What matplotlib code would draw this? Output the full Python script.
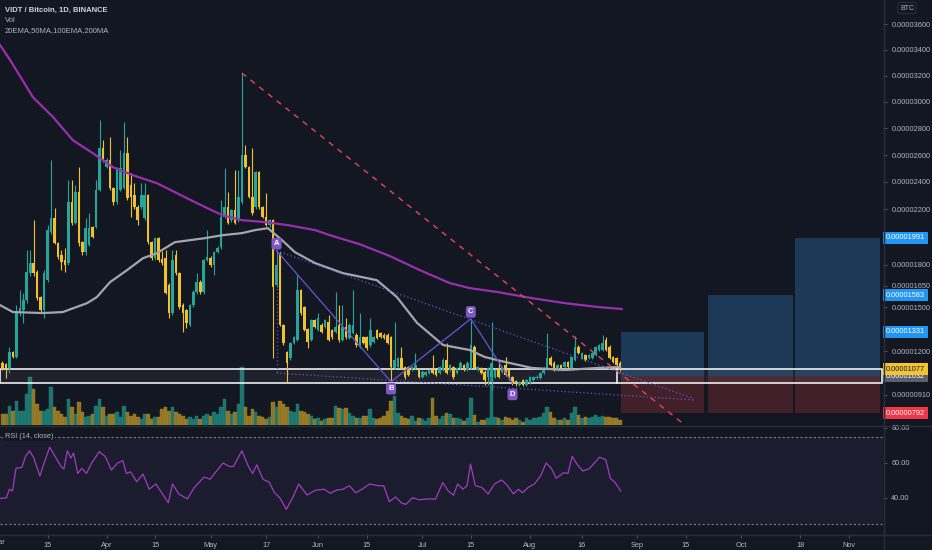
import numpy as np
import matplotlib
matplotlib.use("Agg")
import matplotlib.pyplot as plt
from matplotlib.patches import Rectangle
from matplotlib.lines import Line2D

plt.rcParams['font.family'] = ['Liberation Sans', 'DejaVu Sans']

BG = '#131722'
UP = '#26a69a'
DOWN = '#f0c02f'
TXT = '#b2b5be'
SEP = '#2a2e39'

# x = days since 2021-03-01, prices in units of 1e-8 BTC
candle_day = list(range(1, 180))
opens = [1120, 1113, 1087, 1194, 1160, 1460, 1481, 1550, 1740, 1811,
         1747, 1571, 1481, 1690, 2034, 2135, 1954, 1868, 1832, 1811,
         2251, 2098, 2325, 1961, 1889, 1940, 2070, 2070, 2340, 2651,
         2509, 2561, 2355, 2251, 2340, 2355, 2614, 2376, 2303, 2215,
         2215, 2135, 2303, 1961, 1846, 1990,
         1840, 1846, 1655, 1460, 1868, 1740, 1515, 1481, 1378, 1515,
         1606, 1676, 1606, 1832, 1846, 1796, 1889, 1925, 2142, 2215,
         2120, 2193, 2120, 2251, 2600, 2509, 2288, 2215, 2472, 2215,
         2142, 2084, 2120, 1655, 1882, 1378, 1194, 1153, 1254, 1275,
         1620, 1502, 1351, 1275,
         1412, 1344, 1378, 1365, 1398, 1344, 1330, 1378, 1275, 1365,
         1289, 1323, 1310, 1228, 1296, 1296, 1241, 1262, 1344, 1323,
         1310, 1310, 1296, 1087, 1093, 1153, 1093, 1093, 1073, 1087,
         1073, 1027, 1040, 1053, 1073, 1073, 1053, 1073, 1140, 1073,
         1093, 1053, 1087, 1107, 1073,
         1087, 1228, 1073, 1087, 1060, 1027, 1027, 1027, 1087, 1060,
         1107, 1073, 1027, 1000, 974, 1007, 974, 987, 1007, 1020,
         1020, 1053, 1087, 1153, 1120, 1073, 1107, 1093, 1127, 1087,
         1140, 1228, 1153, 1173, 1153, 1153, 1173, 1207, 1207, 1275,
         1228, 1160, 1153, 1120]
highs = [1130, 1120, 1228, 1200, 1515, 1620, 1600, 1904, 1904, 2120,
         1760, 1580, 1761, 2084, 2561, 2208, 1960, 1904, 1918, 2413,
         2413, 2376, 2509, 1968, 2135, 2171, 2080, 2413, 2862, 2711,
         2580, 2734, 2365, 2510, 2636, 2847, 2734, 2465, 2391, 2230,
         2391, 2391, 2310, 1970, 2000, 2000,
         1900, 1904, 1670, 1904, 1904, 1750, 1530, 1490, 1525, 1620,
         1740, 1690, 1840, 2048, 1860, 1900, 1930, 2266, 2502, 2325,
         2200, 2487, 2487, 3221, 2674, 2520, 2651, 2480, 2480, 2220,
         2318, 2130, 2130, 1900, 1890, 1385, 1200, 1260, 1305, 1725,
         1630, 1510, 1360, 1420,
         1420, 1460, 1390, 1420, 1446, 1350, 1606, 1515, 1515, 1426,
         1390, 1620, 1320, 1460, 1305, 1305, 1426, 1305, 1350, 1330,
         1320, 1320, 1305, 1398, 1160, 1228, 1100, 1100, 1100, 1187,
         1080, 1070, 1065, 1080, 1173, 1080, 1100, 1150, 1254, 1115,
         1100, 1095, 1130, 1115, 1130,
         1420, 1240, 1100, 1095, 1070, 1095, 1398, 1080, 1140, 1100,
         1160, 1080, 1035, 1010, 1000, 1015, 1015, 1035, 1035, 1040,
         1060, 1095, 1323, 1165, 1130, 1115, 1115, 1135, 1135, 1170,
         1303, 1240, 1195, 1180, 1180, 1195, 1235, 1250, 1310, 1296,
         1240, 1170, 1160, 1130]
lows = [1075, 1020, 1053, 1150, 1150, 1440, 1392, 1530, 1720, 1720,
        1550, 1460, 1426, 1680, 2020, 1950, 1840, 1761, 1747, 1796,
        2084, 2090, 1932, 1868, 1870, 1932, 1990, 2060, 2330, 2550,
        2500, 2340, 2230, 2240, 2330, 2345, 2270, 2142, 2200, 2084,
        2200, 2120, 1950, 1830, 1830, 1820,
        1800, 1590, 1426, 1450, 1730, 1490, 1330, 1358, 1370, 1500,
        1595, 1590, 1595, 1825, 1785, 1730, 1880, 1915, 2135, 2090,
        2110, 2090, 2110, 2240, 2500, 2280, 2160, 2200, 2200, 2135,
        2075, 2070, 1153, 1640, 1370, 1240, 994, 1140, 1245, 1265,
        1450, 1335, 1221, 1265,
        1355, 1335, 1320, 1355, 1265, 1285, 1320, 1260, 1265, 1285,
        1280, 1315, 1230, 1220, 1245, 1210, 1230, 1255, 1280, 1290,
        1280, 1245, 995, 1080, 1085, 1080, 1015, 1030, 1065, 1080,
        1020, 1020, 1035, 1045, 1045, 1030, 1045, 1065, 1045, 1065,
        1015, 1045, 1080, 1065, 1065,
        1080, 1080, 1065, 1045, 974, 974, 941, 1020, 1020, 1053,
        1030, 1010, 974, 967, 967, 967, 967, 980, 1000, 1015,
        1015, 1045, 1080, 1100, 1065, 1065, 1080, 1085, 1085, 1080,
        1130, 1180, 1145, 1130, 1145, 1145, 1165, 1200, 1200, 1200,
        1145, 1120, 1100, 1065]
closes = [1087, 1087, 1194, 1160, 1460, 1495, 1550, 1747, 1811, 1740,
          1564, 1481, 1740, 2048, 2135, 1954, 1853, 1818, 1796, 2251,
          2098, 2325, 1954, 1889, 2062, 2062, 1997, 2340, 2651, 2561,
          2561, 2355, 2251, 2502, 2502, 2614, 2281, 2288, 2215, 2120,
          2303, 2303, 1961, 1846, 1990, 1832,
          1810, 1599, 1460, 1832, 1740, 1502, 1460, 1392, 1515, 1606,
          1676, 1606, 1832, 1853, 1796, 1889, 1918, 2142, 2215, 2098,
          2193, 2098, 2288, 2600, 2509, 2288, 2171, 2472, 2215, 2142,
          2084, 2120, 1641, 1796, 1378, 1254, 1120, 1254, 1296, 1620,
          1460, 1344, 1262, 1412,
          1365, 1426, 1330, 1412, 1275, 1296, 1365, 1275, 1365, 1296,
          1378, 1378, 1241, 1296, 1254, 1221, 1344, 1296, 1289, 1296,
          1289, 1254, 1093, 1140, 1153, 1087, 1027, 1040, 1093, 1107,
          1027, 1060, 1060, 1073, 1053, 1040, 1093, 1140, 1053, 1107,
          1027, 1087, 1120, 1073, 1120,
          1241, 1087, 1093, 1053, 1007, 1087, 1120, 1073, 1027, 1093,
          1040, 1020, 994, 981, 994, 974, 1007, 1027, 1027, 1027,
          1053, 1087, 1153, 1107, 1073, 1107, 1087, 1127, 1093, 1160,
          1228, 1187, 1187, 1140, 1173, 1187, 1228, 1241, 1254, 1207,
          1153, 1127, 1107, 1077]
volume = [11, 11, 19, 14, 24, 14, 14, 31, 48, 36, 21, 14, 14, 16, 38, 18, 14, 11, 8, 26,
          18, 11, 23, 13, 8, 9, 11, 19, 26, 18, 9, 11, 11, 13, 8, 19, 13, 9, 11, 8,
          6, 11, 11, 6, 8, 8,
          16, 18, 14, 18, 13, 11, 9, 6, 8, 6, 9, 6, 9, 11, 9, 13, 11, 18, 26, 14,
          11, 13, 21, 58, 18, 9, 16, 13, 9, 8, 6, 8, 23, 18, 24, 21, 18, 14, 13, 21,
          14, 13, 11, 9,
          6, 7, 4, 6, 7, 7, 19, 17, 16, 17, 12, 9, 7, 7, 9, 9, 16, 7, 6, 7,
          9, 14, 24, 29, 12, 9, 7, 6, 9, 4, 7, 6, 4, 7, 27, 9, 6, 9, 12, 11,
          7, 7, 6, 4, 7,
          27, 10, 3, 5, 5, 7, 50, 8, 7, 5, 8, 7, 5, 7, 5, 3, 7, 5, 7, 7,
          8, 12, 18, 13, 7, 5, 5, 7, 5, 12, 18, 10, 7, 8, 7, 8, 10, 8, 9, 8,
          8, 7, 7, 5]

# moving averages
ma_long_day = [0.3, 3.2, 9.8, 15.6, 21.3, 27.1, 32.9, 38.6, 45.5, 50.7, 56.5, 64.3, 70.0,
               76.7, 83.3, 91.1, 95.4, 104.0, 112.7, 121.3, 130.0, 135.7, 143.8, 153.6,
               163.1, 172.6, 179.5]
ma_long = [3437, 3321, 3036, 2885, 2711, 2613, 2509, 2450, 2391, 2325, 2251, 2157, 2120,
           2106, 2084, 2048, 2011, 1946, 1861, 1761, 1669, 1634, 1606, 1564,
           1529, 1502, 1488]
ma_mid_day = [0.3, 4.0, 12.7, 18.4, 25.4, 28.2, 32.0, 36.9, 41.5, 45.5, 50.7, 59.4, 64.3,
              70.0, 73.8, 77.5, 81.6, 85.3, 91.1, 99.1, 108.9, 114.7, 120.5, 128.0,
              135.7, 140.0, 145.8, 153.6, 163.1, 172.6, 179.0]
ma_mid = [1515, 1467, 1460, 1467, 1529, 1571, 1676, 1761, 1846, 1882, 1961, 1990, 2011,
          2026, 2048, 2062, 1975, 1889, 1811, 1740, 1690, 1571, 1392, 1241,
          1207, 1160, 1127, 1087, 1073, 1087, 1093]

rsi_day = [0.3, 2.1, 3.0, 3.9, 4.9, 6.6, 7.6, 8.8, 10.0, 11.8, 13.0, 14.6, 16.1, 17.9,
           18.7, 19.7, 20.7, 21.5, 22.7, 23.9, 25.2, 26.7, 28.9, 30.6, 32.4, 34.2, 35.7,
           36.7, 37.9, 39.7, 41.5, 43.3, 45.2, 47.0, 48.8, 50.0, 51.8, 54.3, 56.3, 59.1,
           60.9, 62.1, 64.6, 66.4, 67.6, 70.0, 71.9, 73.1, 74.3, 76.1, 77.9, 79.4, 81.0,
           82.8, 84.6, 86.4, 88.8, 91.3, 93.7, 95.5, 97.3, 99.1, 101.0, 102.8, 104.6,
           106.8, 109.4, 110.9, 112.5, 114.3, 116.1, 117.3, 119.2, 121.0, 124.0, 125.8,
           127.9, 129.5, 131.0, 132.2, 133.7, 134.9, 135.9, 137.3, 139.2, 141.0, 142.8,
           144.9, 146.4, 148.3, 149.7, 150.9, 152.5, 154.3, 156.1, 157.7, 159.2, 160.6,
           162.8, 164.0, 165.2, 166.7, 168.3, 170.1, 173.1, 174.9, 176.2, 177.6, 179.2]
rsi = [39.8, 40, 45, 44, 57, 57.5, 63.6, 67, 63, 52.6, 60, 69, 64, 57.9,
       56.6, 67, 62.8, 65.7, 54, 57, 54, 60, 66.5, 63.8, 56, 60, 61.4,
       54, 55, 49.3, 53.7, 45, 48, 42.7, 37.3, 48, 42.3, 39.5, 46, 52,
       50.7, 54, 60, 58, 58, 67, 58, 54, 59, 50.7, 49, 43, 40,
       33.5, 40, 48, 41.7, 44.5, 45, 42.7, 44.5, 45, 47, 43, 45,
       48, 47, 47, 37.9, 40.6, 37, 36.4, 40.2, 39, 39.5, 39.3,
       48.8, 44, 41.6, 48, 45, 47, 59.4, 47, 46, 42.3, 48,
       50.3, 47.5, 42.3, 45, 43, 46, 48, 52.6, 60, 57, 51.3,
       54.5, 54, 63.8, 59, 55.4, 56.7, 63.3, 61.9, 51.3, 48.8, 44]

# drawings on the chart
trend_day = [70, 197.7]
trend_price = [3221, 716]
abcd_day = [80, 113, 136, 148]
abcd_price = [1900, 995, 1420, 985]
abcd_name = ['A', 'B', 'C', 'D']
abcd_offset = [5, -5, 5, -8]
upper_dot_day = [80, 199.7]
upper_dot_price = [1900, 889]
lower_dot_day = [80, 200.6]
lower_dot_price = [1053, 876]
zone_low, zone_high = 987, 1080
entry, stop = 1032, 792
targets = [1331, 1583, 1991]
box_start = [179.2, 204.3, 229.4]
box_end = [203.2, 228.8, 253.9]
last_price = 1077

price_ticks = [3600, 3400, 3200, 3000, 2800, 2600, 2400, 2200, 1800, 1650, 1500, 1200, 910]
date_ticks = [14, 31, 45, 61, 77, 92, 106, 122, 136, 153, 168, 184, 198, 214, 231, 245]
date_labels = ['15', 'Apr', '15', 'May', '17', 'Jun', '15', 'Jul', '15', 'Aug', '16',
               'Sep', '15', 'Oct', '18', 'Nov']

K = 0.87


def fwd(p):
    return np.power(np.clip(p, 1.0, None), K)


def inv(v):
    return np.power(np.clip(v, 1.0, None), 1.0 / K)


W, H = 932, 550


def place(x0, y0, x1, y1):
    return [x0 / W, 1 - y1 / H, (x1 - x0) / W, (y1 - y0) / H]


fig = plt.figure(figsize=(9.32, 5.5), dpi=100)
fig.patch.set_facecolor(BG)
vax = fig.add_axes(place(0, 0, 883, 425))
ax = fig.add_axes(place(0, 0, 883, 425), sharex=vax)
rax = fig.add_axes(place(0, 426, 883, 534), sharex=vax)

for a in (vax, ax, rax):
    for s in a.spines.values():
        s.set_visible(False)
vax.set_facecolor(BG)
ax.set_facecolor('none')
rax.set_facecolor(BG)
vax.set_xlim(0.29, 254.8)

o = np.array(opens)
c = np.array(closes)
up = c >= o
cols = np.where(up, UP, DOWN)

# volume overlay
vcols = np.where(up, '#1f857b', '#a88728')
vax.bar(candle_day, volume, width=1.0, color=vcols, edgecolor=vcols,
        linewidth=0.3, alpha=0.85)
vax.set_ylim(0, 425)
vax.set_yticks([])
vax.tick_params(axis='x', bottom=False, labelbottom=False)

# main price pane
ax.set_yscale('function', functions=(fwd, inv))
ax.set_ylim(716, 3788)

for x0, x1, t in zip(box_start, box_end, targets):
    ax.add_patch(Rectangle((x0, entry), x1 - x0, t - entry, fc='#1c3958', ec='none', zorder=1))
    ax.add_patch(Rectangle((x0, stop), x1 - x0, entry - stop, fc='#42202a', ec='none', zorder=1))

ax.add_patch(Rectangle((0.29, zone_low), 254.3, zone_high - zone_low,
                       fc=(1, 1, 1, 0.05), ec='white', lw=1.1, zorder=2))
ax.plot([178.2, 178.2], [zone_low, zone_high], color='white', lw=1.1, zorder=2)

ax.vlines(candle_day, lows, highs, colors=cols, linewidth=0.8, zorder=4)
ax.bar(candle_day, np.abs(c - o), bottom=np.minimum(o, c), width=0.74,
       color=cols, linewidth=0, zorder=5)

ax.plot(ma_long_day, ma_long, color='#9a2fae', lw=1.6, zorder=6)
ax.plot(ma_mid_day, ma_mid, color='#a3a6af', lw=1.6, zorder=6)

ax.plot(trend_day, trend_price, color='#e9435e', lw=1.0, ls=(0, (4, 4)), zorder=7)

pat = '#6457d6'
ax.plot(abcd_day, abcd_price, color=pat, lw=0.9, zorder=7)
ax.plot(upper_dot_day, upper_dot_price, color=pat, lw=0.9, ls=(0, (1, 2)), zorder=7)
ax.plot(lower_dot_day, lower_dot_price, color=pat, lw=0.9, ls=(0, (1, 2)), zorder=7)
ax.plot([abcd_day[0], abcd_day[0]], [upper_dot_price[0], lower_dot_price[0]],
        color=pat, lw=0.9, ls=(0, (1, 2)), zorder=7)
for d, p, n, off in zip(abcd_day, abcd_price, abcd_name, abcd_offset):
    ax.annotate(n, (d, p), xytext=(0, off), textcoords='offset points', ha='center',
                va='center', fontsize=5.5, fontweight='bold', color='white', zorder=9,
                bbox=dict(boxstyle='round,pad=0.3', fc='#7e57c2', ec='none'))

ax.yaxis.set_ticks_position('right')
ax.set_yticks(price_ticks)
ax.set_yticklabels([f'{v * 1e-8:.8f}' for v in price_ticks])
ax.minorticks_off()
ax.tick_params(axis='y', length=3, color='#50535e', labelsize=5.3, labelcolor=TXT, pad=3)
ax.tick_params(axis='x', bottom=False, labelbottom=False)

tags = [(targets[2], '#2196f3', 'white'), (targets[1], '#2196f3', 'white'),
        (targets[0], '#2196f3', 'white'), (entry, '#5d606b', 'white'),
        (last_price, '#f5c531', '#131722'), (stop, '#f23645', 'white')]
for i, (v, fc, tc) in enumerate(tags):
    ax.text(1.0 + 3 / 883, v, f'{v * 1e-8:.8f}', transform=ax.get_yaxis_transform(),
            ha='left', va='center', fontsize=5.3, color=tc, clip_on=False, zorder=20 + i,
            bbox=dict(boxstyle='square,pad=0.35', fc=fc, ec='none'))

# RSI pane
rax.set_ylim(19.43, 81.14)
rax.axhspan(25, 75, color='#7e57c2', alpha=0.08, lw=0)
rax.axhline(75, color='#787b86', lw=0.8, ls=(0, (2, 2)))
rax.axhline(25, color='#787b86', lw=0.8, ls=(0, (2, 2)))
rax.plot(rsi_day, rsi, color='#a03cc0', lw=0.9)
rax.text(5 / 883, 75, 'RSI (14, close)', transform=rax.get_yaxis_transform(), ha='left',
         va='center', fontsize=5.3, color=TXT,
         bbox=dict(boxstyle='square,pad=0.15', fc=BG, ec='none'))
rax.yaxis.set_ticks_position('right')
rax.set_yticks([40, 60, 80])
rax.set_yticklabels(['40.00', '60.00', '80.00'])
rax.tick_params(axis='y', length=3, color='#50535e', labelsize=5.3, labelcolor=TXT, pad=3)
rax.set_xticks(date_ticks)
rax.set_xticklabels(date_labels)
rax.tick_params(axis='x', length=3, color='#50535e', labelsize=5.3, labelcolor=TXT, pad=2.5)

# header texts
fig.text(5 / W, 1 - 10 / H, 'VIDT / Bitcoin, 1D, BINANCE', fontsize=5.5, fontweight='bold',
         color='#d1d4dc', va='center')
fig.text(5 / W, 1 - 21 / H, 'Vol', fontsize=5.5, color=TXT, va='center')
fig.text(5 / W, 1 - 31 / H, '20EMA,50MA,100EMA,200MA', fontsize=5.5, color=TXT, va='center')
fig.text(907 / W, 1 - 8 / H, 'BTC', fontsize=5, color=TXT, ha='center', va='center',
         bbox=dict(boxstyle='round,pad=0.3', fc=BG, ec=SEP, lw=0.8))
# month label cut by the left edge, as in the source
fig.text(-1 / W, 1 - 542 / H, 'Mar', fontsize=5.3, color=TXT, ha='center', va='center')

# pane separators
fig.add_artist(Line2D([0, 1], [1 - 425.5 / H] * 2, color=SEP, lw=1))
fig.add_artist(Line2D([0, 1], [1 - 534.5 / H] * 2, color=SEP, lw=1))
fig.add_artist(Line2D([883.5 / W] * 2, [0, 1], color=SEP, lw=1))

fig.savefig('out.png', dpi=100, facecolor=BG)
